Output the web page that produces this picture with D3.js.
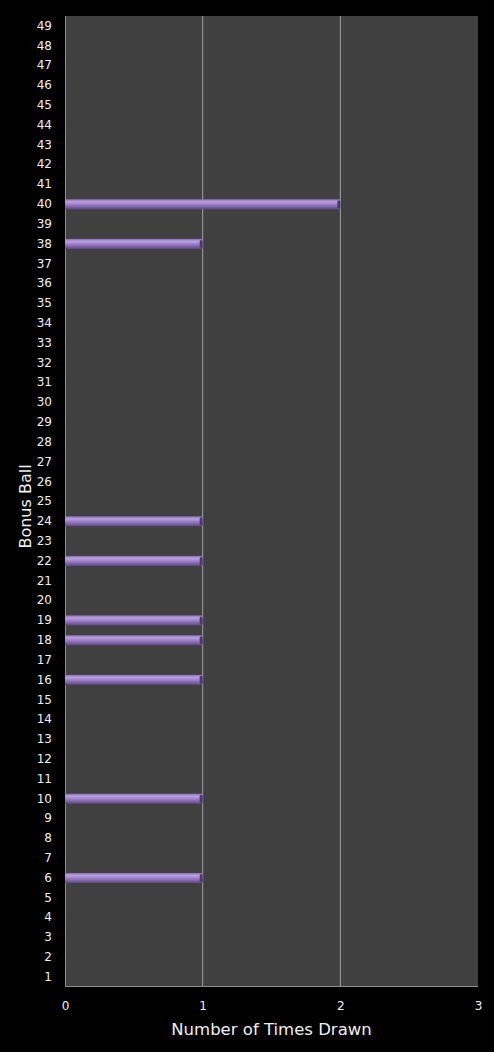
<!DOCTYPE html>
<html>
<head>
<meta charset="utf-8">
<script src="https://cdn.jsdelivr.net/npm/d3@7"></script>
<style>
  body { margin: 0; background: #000; }
  svg { display: block; }
</style>
</head>
<body>
<div id="chart"></div>
<script>
// balls 1..49, times each was drawn as the bonus ball
var balls = d3.range(1, 50);
var drawnBalls = [6, 10, 16, 18, 19, 22, 24, 38, 40];
var drawnCounts = [1, 1, 1, 1, 1, 1, 1, 1, 2];
var xTicks = [0, 1, 2, 3];

var counts = balls.map(function(b) {
  var i = drawnBalls.indexOf(b);
  return { ball: b, count: i < 0 ? 0 : drawnCounts[i] };
});

var width = 494, height = 1052;
var margin = { top: 16, right: 16, bottom: 65, left: 65 };
var innerW = width - margin.left - margin.right;
var innerH = height - margin.top - margin.bottom;

var svg = d3.select("#chart").append("svg")
  .attr("width", width)
  .attr("height", height);

var defs = svg.append("defs");
var grad = defs.append("linearGradient")
  .attr("id", "barGrad")
  .attr("x1", 0).attr("y1", 0).attr("x2", 0).attr("y2", 1);
grad.append("stop").attr("offset", "0%").attr("stop-color", "#8a70b4");
grad.append("stop").attr("offset", "25%").attr("stop-color", "#b9a0de");
grad.append("stop").attr("offset", "55%").attr("stop-color", "#9a7cc6");
grad.append("stop").attr("offset", "100%").attr("stop-color", "#5e4883");

var g = svg.append("g")
  .attr("transform", "translate(" + margin.left + "," + margin.top + ")");

var x = d3.scaleLinear().domain([0, 3]).range([0, innerW]);
var y = d3.scaleBand().domain(balls.slice().reverse()).range([0, innerH]);

// plot background
g.append("rect")
  .attr("width", innerW)
  .attr("height", innerH)
  .attr("fill", "#404040");

// vertical gridlines
g.selectAll(".grid")
  .data([1, 2])
  .enter().append("line")
  .attr("x1", function(d) { return x(d); })
  .attr("x2", function(d) { return x(d); })
  .attr("y1", 0)
  .attr("y2", innerH)
  .attr("stroke", "#a0a0a0")
  .attr("stroke-width", 1);

// axis lines
g.append("line").attr("x1", 0.5).attr("x2", 0.5).attr("y1", 0).attr("y2", innerH)
  .attr("stroke", "#8c8c8c");
g.append("line").attr("x1", 0).attr("x2", innerW).attr("y1", innerH - 0.5).attr("y2", innerH - 0.5)
  .attr("stroke", "#8c8c8c");

// bars
var barH = 10;
var bars = g.selectAll(".bar")
  .data(counts.filter(function(d) { return d.count > 0; }))
  .enter().append("g")
  .attr("class", "bar");

bars.append("rect")
  .attr("x", 0)
  .attr("y", function(d) { return y(d.ball) + y.bandwidth() / 2 - barH / 2; })
  .attr("width", function(d) { return x(d.count); })
  .attr("height", barH)
  .attr("fill", "url(#barGrad)");

bars.append("rect")
  .attr("x", function(d) { return x(d.count) - 3; })
  .attr("y", function(d) { return y(d.ball) + y.bandwidth() / 2 - barH / 2 + 1; })
  .attr("width", 3)
  .attr("height", barH - 2)
  .attr("rx", 1.5)
  .attr("fill", "#4a3a68");

// y axis
var yAxis = g.append("g")
  .call(d3.axisLeft(y).tickSize(0).tickPadding(13));
yAxis.select(".domain").remove();
yAxis.selectAll("text")
  .attr("fill", "#f0f0f0")
  .style("font-family", "'DejaVu Sans', Verdana, sans-serif")
  .style("font-size", "12px");

// x axis
var xAxis = g.append("g")
  .attr("transform", "translate(0," + innerH + ")")
  .call(d3.axisBottom(x).tickValues(xTicks).tickFormat(d3.format("d")).tickSize(0).tickPadding(14));
xAxis.select(".domain").remove();
xAxis.selectAll("text")
  .attr("fill", "#f0f0f0")
  .style("font-family", "'DejaVu Sans', Verdana, sans-serif")
  .style("font-size", "12px");

// axis titles
svg.append("text")
  .attr("x", margin.left + innerW / 2)
  .attr("y", 1035)
  .attr("text-anchor", "middle")
  .attr("fill", "#f0f0f0")
  .style("font-family", "'DejaVu Sans', Verdana, sans-serif")
  .style("font-size", "16.5px")
  .text("Number of Times Drawn");

svg.append("text")
  .attr("transform", "translate(31," + (margin.top + innerH / 2 + 5) + ") rotate(-90)")
  .attr("text-anchor", "middle")
  .attr("fill", "#f0f0f0")
  .style("font-family", "'DejaVu Sans', Verdana, sans-serif")
  .style("font-size", "16px")
  .text("Bonus Ball");
</script>
</body>
</html>
